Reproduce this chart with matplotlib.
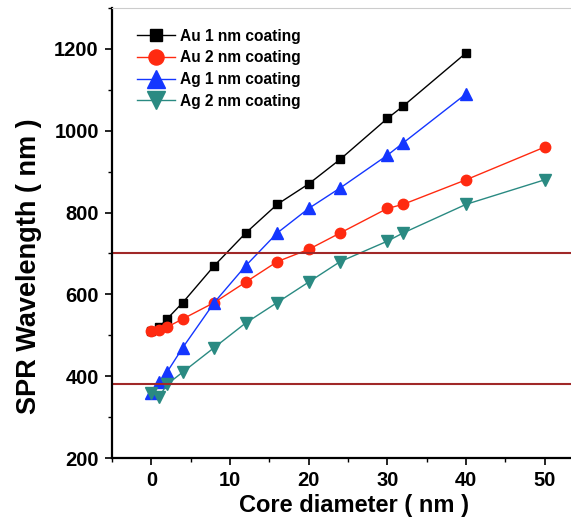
import matplotlib
matplotlib.use("Agg")
import matplotlib.pyplot as plt
from matplotlib.ticker import MultipleLocator

plt.rcParams["font.family"] = ["Liberation Sans", "DejaVu Sans"]
plt.rcParams["font.weight"] = "bold"

# core diameter (nm) vs SPR wavelength (nm)
x_au1 = [0, 1, 2, 4, 8, 12, 16, 20, 24, 30, 32, 40]
y_au1 = [510, 520, 540, 580, 670, 750, 820, 870, 930, 1030, 1060, 1190]

x_au2 = [0, 1, 2, 4, 8, 12, 16, 20, 24, 30, 32, 40, 50]
y_au2 = [510, 512, 520, 540, 580, 630, 680, 710, 750, 810, 820, 880, 960]

x_ag1 = [0, 1, 2, 4, 8, 12, 16, 20, 24, 30, 32, 40]
y_ag1 = [360, 385, 410, 470, 580, 670, 750, 810, 860, 940, 970, 1090]

x_ag2 = [0, 1, 2, 4, 8, 12, 16, 20, 24, 30, 32, 40, 50]
y_ag2 = [360, 350, 380, 410, 470, 530, 580, 630, 680, 730, 750, 820, 880]

ref_lines = [700, 380]

fig = plt.figure(figsize=(5.71, 5.24), dpi=100)
ax = fig.add_axes([112 / 571, 66 / 524, 472 / 571, 450 / 524])

ax.plot(x_au1, y_au1, "-s", color="black", lw=1.0, ms=6, label="Au 1 nm coating")
ax.plot(x_au2, y_au2, "-o", color="#ff2a10", lw=1.0, ms=7.5, label="Au 2 nm coating")
ax.plot(x_ag1, y_ag1, "-^", color="#1436ff", lw=1.0, ms=8.5, label="Ag 1 nm coating")
ax.plot(x_ag2, y_ag2, "-v", color="#2a8a82", lw=1.0, ms=8.5, label="Ag 2 nm coating")

for v in ref_lines:
    ax.axhline(v, color="#a02828", lw=1.5)

ax.set_xlim(-5, 55)
ax.set_ylim(200, 1300)
ax.xaxis.set_major_locator(MultipleLocator(10))
ax.xaxis.set_minor_locator(MultipleLocator(5))
ax.yaxis.set_minor_locator(MultipleLocator(100))
ax.set_yticks([200, 400, 600, 800, 1000, 1200])
ax.tick_params(which="major", length=5, width=1.2, labelsize=14.5, pad=4.5)
ax.tick_params(which="minor", length=3, width=1.0)
for lab in ax.get_xticklabels() + ax.get_yticklabels():
    lab.set_fontweight("bold")

ax.spines["left"].set_linewidth(1.6)
ax.spines["bottom"].set_linewidth(1.6)
ax.spines["top"].set_color("#cccccc")
ax.spines["right"].set_visible(False)

ax.set_xlabel("Core diameter ( nm )", fontsize=17, fontweight="bold")
ax.set_ylabel("SPR Wavelength ( nm )", fontsize=19.5, fontweight="bold")
ax.xaxis.set_label_coords(0.513, -0.08)
ax.yaxis.set_label_coords(-0.148, 0.427)

ax.legend(loc="upper left", bbox_to_anchor=(0.029, 0.978), frameon=False,
          prop={"size": 11.2, "weight": "bold"}, handlelength=2.5,
          handletextpad=0.3, labelspacing=0.43, borderaxespad=0.3,
          markerscale=1.45)

fig.savefig("out.png", dpi=100)
